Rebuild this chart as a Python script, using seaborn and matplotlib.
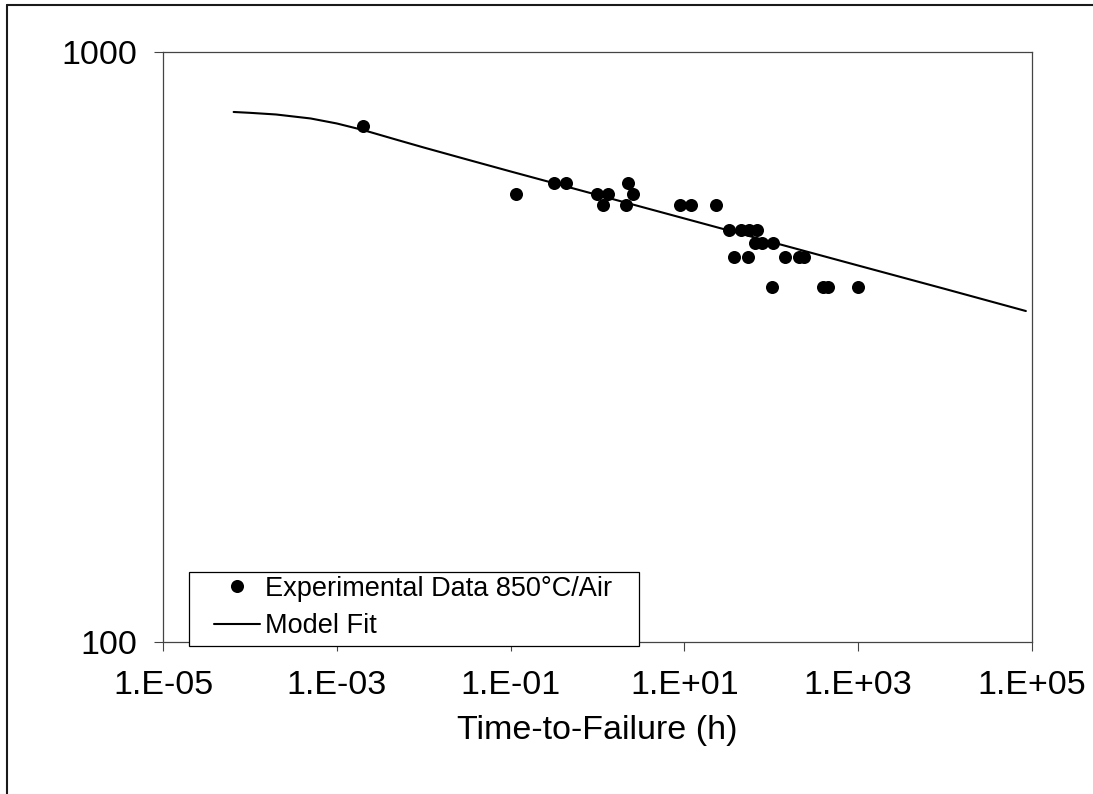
import matplotlib
matplotlib.use("Agg")
import matplotlib.pyplot as plt
from matplotlib.lines import Line2D
from matplotlib.patches import Rectangle
import pandas as pd
import seaborn as sns

# Creep rupture data, 850°C in air: time-to-failure (h) and applied stress
exp_time = [0.002, 0.116, 0.315, 0.43, 0.975, 1.31, 1.17, 2.23, 2.56, 2.14,
            8.8, 11.9, 23.1, 32.3, 44.8, 55.8, 67.7, 65.5, 78.0, 103.5,
            36.9, 54.4, 145.0, 210.0, 239.0, 101.0, 389.0, 444.0, 982.0]
exp_stress = [750, 575, 600, 600, 575, 575, 550, 600, 575, 550,
              550, 550, 550, 500, 500, 500, 500, 475, 475, 475,
              450, 450, 450, 450, 450, 400, 400, 400, 400]

# Model fit curve
fit_time = [6.5e-5, 1e-4, 2e-4, 5e-4, 1e-3, 2e-3, 5e-3, 1e-2, 3e-2, 1e-1,
            1.0, 10.0, 100.0, 1e3, 1e4, 8.5e4]
fit_stress = [791.3, 788.7, 783.6, 771.5, 756.6, 737.6, 709.3, 688.9, 658.7,
              627.4, 572.4, 522.2, 476.4, 434.6, 396.6, 363.9]

x_ticks = [1e-5, 1e-3, 1e-1, 1e1, 1e3, 1e5]
x_tick_labels = ["1.E-05", "1.E-03", "1.E-01", "1.E+01", "1.E+03", "1.E+05"]
y_ticks = [100, 1000]
y_tick_labels = ["100", "1000"]

exp_df = pd.DataFrame({"time": exp_time, "stress": exp_stress})
fit_df = pd.DataFrame({"time": fit_time, "stress": fit_stress})

sns.set_theme(style="white")
plt.rcParams["font.family"] = ["Liberation Sans", "DejaVu Sans"]

W, H = 1093, 794
fig = plt.figure(figsize=(W / 100, H / 100), dpi=100)
fig.patch.set_facecolor("white")

# axes box in pixel terms
left_px, right_px, top_px, bottom_px = 163, 1032, 52, 642
ax = fig.add_axes([left_px / W, 1 - bottom_px / H,
                   (right_px - left_px) / W, (bottom_px - top_px) / H])

sns.lineplot(data=fit_df, x="time", y="stress", ax=ax, color="black",
             linewidth=1.5, legend=False, sort=True, estimator=None)
sns.scatterplot(data=exp_df, x="time", y="stress", ax=ax, color="black",
                s=88, edgecolor="black", linewidth=0, zorder=3, legend=False)

ax.set_xscale("log")
ax.set_yscale("log")
ax.set_xlim(1e-5, 1e5)
ax.set_ylim(100, 1000)
ax.set_xticks(x_ticks)
ax.set_xticklabels(x_tick_labels)
ax.set_yticks(y_ticks)
ax.set_yticklabels(y_tick_labels)
ax.xaxis.set_minor_locator(matplotlib.ticker.NullLocator())
ax.yaxis.set_minor_locator(matplotlib.ticker.NullLocator())
ax.tick_params(axis="both", which="major", direction="out", length=6.5,
               width=0.8, color="#444444", labelsize=24.5, labelcolor="black",
               bottom=True, left=True, top=False, right=False)
ax.tick_params(axis="x", pad=14)
ax.tick_params(axis="y", pad=12)
ax.set_xlabel("Time-to-Failure (h)", fontsize=24.5, labelpad=10, color="black")
ax.set_ylabel("")
for sp in ax.spines.values():
    sp.set_visible(True)
    sp.set_color("#444444")
    sp.set_linewidth(0.9)
ax.grid(False)

# legend with a wide white box that sits over the bottom spine
box = Rectangle((189 / W, 1 - 646 / H), (639 - 189) / W, (646 - 572) / H,
                transform=fig.transFigure, facecolor="white",
                edgecolor="black", linewidth=0.9, zorder=4)
fig.add_artist(box)

handles = [
    Line2D([], [], marker="o", linestyle="none", color="black",
           markersize=9.4, markeredgewidth=0),
    Line2D([], [], color="black", linewidth=1.5),
]
labels = ["Experimental Data 850°C/Air", "Model Fit"]
leg = fig.legend(handles, labels, loc="upper left",
                 bbox_to_anchor=(211 / W, 1 - 573 / H), borderaxespad=0,
                 borderpad=0.1, frameon=False, fontsize=19.5,
                 handlelength=1.7, handletextpad=0.2, labelspacing=0.42,
                 labelcolor="black")
leg.set_zorder(5)

# outer frame of the figure
frame_kw = dict(color="#1a1a1a", linewidth=1.5, transform=fig.transFigure)
fig.add_artist(Line2D([7 / W, 7 / W], [1 - 5 / H, 0], **frame_kw))
fig.add_artist(Line2D([7 / W, 1], [1 - 5 / H, 1 - 5 / H], **frame_kw))

fig.savefig("out.png", dpi=100, facecolor="white")
